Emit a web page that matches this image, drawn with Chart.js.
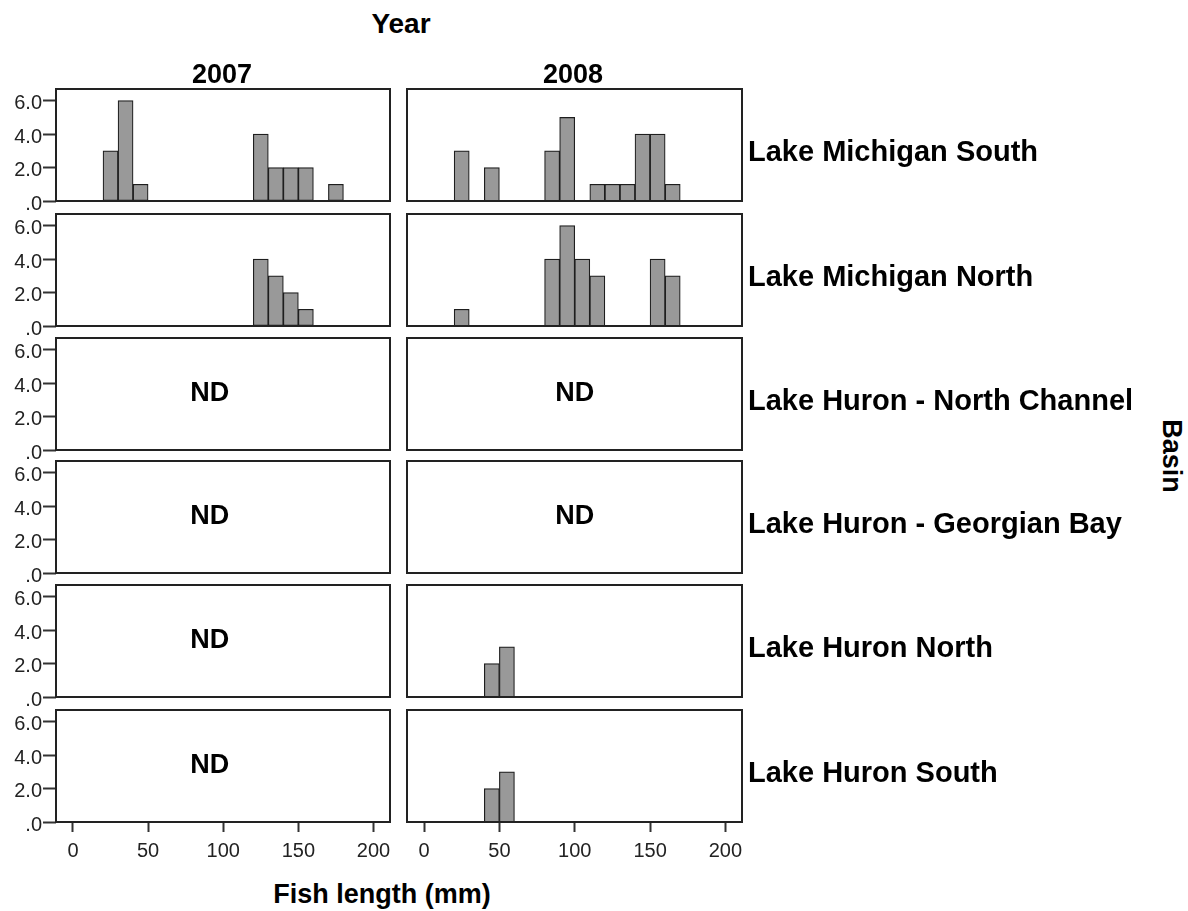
<!DOCTYPE html>
<html>
<head>
<meta charset="utf-8">
<script src="https://cdn.jsdelivr.net/npm/chart.js@4.4.1/dist/chart.umd.min.js"></script>
<style>
body { margin: 0; background: #fff; }
#page { position: relative; width: 1188px; height: 911px; overflow: hidden; font-family: "Liberation Sans", Arial, sans-serif; }
#page canvas { position: absolute; }
.lbl { position: absolute; font-weight: bold; line-height: 1; white-space: nowrap; color: #000; }
.c { transform: translate(-50%, -50%); }
.l { transform: translate(0, -50%); }
</style>
</head>
<body>
<div id="page"></div>
<script>
// histogram bins (mm), width 10
var bins = [0, 10, 20, 30, 40, 50, 60, 70, 80, 90, 100, 110, 120, 130, 140, 150, 160, 170, 180, 190];
var years = ['2007', '2008'];
var basins = ['Lake Michigan South', 'Lake Michigan North', 'Lake Huron - North Channel',
    'Lake Huron - Georgian Bay', 'Lake Huron North', 'Lake Huron South'];

// counts per bin, null = no data (ND)
var michSouth2007 = [0, 0, 3, 6, 1, 0, 0, 0, 0, 0, 0, 0, 4, 2, 2, 2, 0, 1, 0, 0];
var michSouth2008 = [0, 0, 3, 0, 2, 0, 0, 0, 3, 5, 0, 1, 1, 1, 4, 4, 1, 0, 0, 0];
var michNorth2007 = [0, 0, 0, 0, 0, 0, 0, 0, 0, 0, 0, 0, 4, 3, 2, 1, 0, 0, 0, 0];
var michNorth2008 = [0, 0, 1, 0, 0, 0, 0, 0, 4, 6, 4, 3, 0, 0, 0, 4, 3, 0, 0, 0];
var northChannel2007 = null;
var northChannel2008 = null;
var georgianBay2007 = null;
var georgianBay2008 = null;
var huronNorth2007 = null;
var huronNorth2008 = [0, 0, 0, 0, 2, 3, 0, 0, 0, 0, 0, 0, 0, 0, 0, 0, 0, 0, 0, 0];
var huronSouth2007 = null;
var huronSouth2008 = [0, 0, 0, 0, 2, 3, 0, 0, 0, 0, 0, 0, 0, 0, 0, 0, 0, 0, 0, 0];

var counts = [
    [michSouth2007, michSouth2008],
    [michNorth2007, michNorth2008],
    [northChannel2007, northChannel2008],
    [georgianBay2007, georgianBay2008],
    [huronNorth2007, huronNorth2008],
    [huronSouth2007, huronSouth2008]
];

var yTickText = { 0: '.0', 2: '2.0', 4: '4.0', 6: '6.0' };

// layout
var rowTop = [89, 214, 338, 461, 585, 710];
var panelH = 112;
var colLeft = [56, 407];
var colWidth = [334, 335];
var ndAt = [91, 100];
var page = document.getElementById('page');
var fontFam = '"Liberation Sans", Arial, sans-serif';

var framePlugin = {
    id: 'frame',
    afterDatasetsDraw: function (chart, args, opts) {
        var a = chart.chartArea;
        var ctx = chart.ctx;
        ctx.save();
        ctx.strokeStyle = '#222';
        ctx.lineWidth = 2;
        ctx.strokeRect(a.left, a.top, a.right - a.left, a.bottom - a.top);
        if (opts.nd) {
            ctx.fillStyle = '#000';
            ctx.font = 'bold 27px ' + fontFam;
            ctx.textAlign = 'center';
            ctx.textBaseline = 'middle';
            ctx.fillText('ND', chart.scales.x.getPixelForValue(opts.ndX), (a.top + a.bottom) / 2);
        }
        ctx.restore();
    }
};

function addLabel(text, x, y, size, cls, extra) {
    var d = document.createElement('div');
    d.className = 'lbl ' + cls;
    d.textContent = text;
    d.style.left = x + 'px';
    d.style.top = y + 'px';
    d.style.fontSize = size + 'px';
    if (extra) d.style.transform = extra;
    page.appendChild(d);
}

function makePanel(r, c, vals) {
    var bottomRow = r === basins.length - 1;
    var padL = c === 0 ? 0 : 6;
    var padR = 10;
    var yW = c === 0 ? 56 : 0;
    var padT = 16;
    var padB = bottomRow ? 0 : 16;
    var xH = 50;
    var canvas = document.createElement('canvas');
    canvas.width = padL + yW + colWidth[c] + padR;
    canvas.height = padT + panelH + (bottomRow ? xH : padB);
    canvas.style.left = (colLeft[c] - yW - padL) + 'px';
    canvas.style.top = (rowTop[r] - padT) + 'px';
    page.appendChild(canvas);

    var tickFont = { family: fontFam, size: 20 };
    new Chart(canvas, {
        type: 'bar',
        data: {
            datasets: [{
                data: bins.map(function (b, i) {
                    return { x: b + 5, y: vals && vals[i] ? vals[i] : null };
                }),
                backgroundColor: '#999999',
                borderColor: '#1e1e1e',
                borderWidth: 1.2,
                borderSkipped: false,
                barPercentage: 1,
                categoryPercentage: 1
            }]
        },
        options: {
            responsive: false,
            animation: false,
            events: [],
            layout: { padding: { left: padL, right: padR, top: padT, bottom: padB } },
            plugins: {
                legend: { display: false },
                tooltip: { enabled: false },
                frame: { nd: vals === null, ndX: ndAt[c] }
            },
            scales: {
                x: {
                    type: 'linear',
                    min: -11.3,
                    max: 211,
                    offset: false,
                    display: bottomRow,
                    border: { display: false },
                    grid: { offset: false, drawOnChartArea: false, drawTicks: true, tickLength: 10, tickWidth: 2, tickColor: '#333' },
                    ticks: { stepSize: 50, includeBounds: false, padding: 7, color: '#222', font: tickFont, maxRotation: 0 },
                    afterFit: function (s) { s.height = bottomRow ? xH : 0; }
                },
                y: {
                    min: 0,
                    max: 6.7,
                    display: c === 0,
                    border: { display: false },
                    grid: { drawOnChartArea: false, drawTicks: true, tickLength: 13, tickWidth: 2, tickColor: '#333' },
                    ticks: {
                        stepSize: 2, includeBounds: false, padding: 1, labelOffset: 3, color: '#222', font: tickFont,
                        autoSkip: false,
                        callback: function (v) { return yTickText[v]; }
                    },
                    afterFit: function (s) { s.width = yW; }
                }
            }
        },
        plugins: [framePlugin]
    });
}

basins.forEach(function (basin, r) {
    years.forEach(function (year, c) {
        makePanel(r, c, counts[r][c]);
    });
    addLabel(basin, 748, rowTop[r] + panelH / 2 + 6, 29, 'l');
});

addLabel('Year', 401, 24, 28, 'c');
addLabel(years[0], 222, 74, 27, 'c');
addLabel(years[1], 573, 74, 27, 'c');
addLabel('Basin', 1171, 456, 27, 'c', 'translate(-50%, -50%) rotate(90deg)');
addLabel('Fish length (mm)', 382, 894, 27, 'c');
</script>
</body>
</html>
